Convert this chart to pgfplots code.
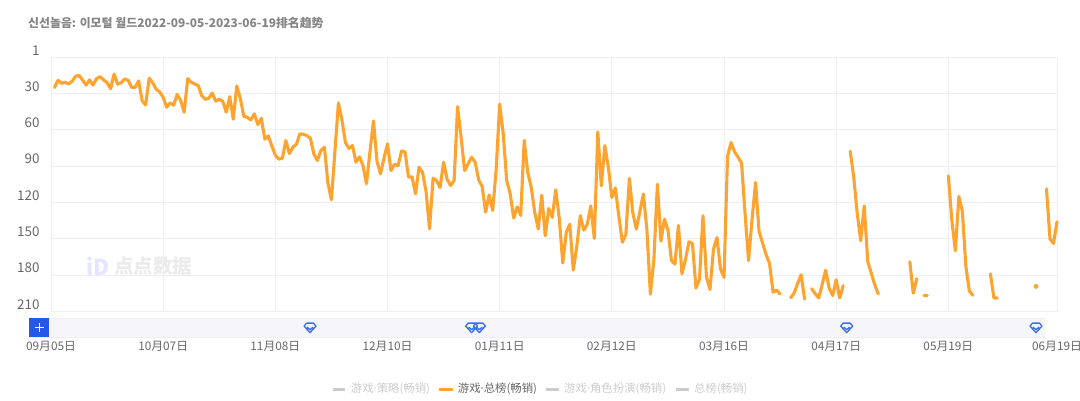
\documentclass[border=0pt]{standalone}
\usepackage{pgfplots}
\usepackage{pgfplotstable}
\usepackage{fontspec}
\pgfplotsset{compat=1.18}
\setmainfont{Noto Sans CJK SC}
\newfontfamily\latf{Noto Sans}
\newcommand{\mdot}{{\latf\fontsize{11.4pt}{13pt}\selectfont ·}}
\definecolor{gridc}{HTML}{ECEEF1}
\definecolor{linec}{HTML}{FDA32F}
\definecolor{ticktxt}{HTML}{666666}
\definecolor{offc}{HTML}{CCCCCC}
\definecolor{gemc}{HTML}{3A6FF0}
\definecolor{barc}{HTML}{F5F5FA}
\definecolor{btnc}{HTML}{2558E6}
\pgfdeclareplotmark{gem}{%
  \pgfsetlinewidth{1.3pt}\pgfsetroundjoin
  \pgfpathmoveto{\pgfpoint{-6pt}{1.5pt}}
  \pgfpathlineto{\pgfpoint{-3.5pt}{4.5pt}}
  \pgfpathlineto{\pgfpoint{3.5pt}{4.5pt}}
  \pgfpathlineto{\pgfpoint{6pt}{1.5pt}}
  \pgfpathlineto{\pgfpoint{0pt}{-5pt}}
  \pgfpathclose
  \pgfpathmoveto{\pgfpoint{-3pt}{0.5pt}}
  \pgfpathlineto{\pgfpoint{0pt}{-2pt}}
  \pgfpathlineto{\pgfpoint{3pt}{0.5pt}}
  \pgfusepathqstroke}
\pgfplotstableread{
d v
1 25
2 19
3 21.5
4 20.6
5 22
6 20
7 15.7
8 15
9 18.7
10 23
11 18.7
12 23
13 17.6
14 16
15 18.7
16 21
17 26
18 13.8
19 22.3
20 21
21 18
22 19
23 24.8
24 24.8
25 19.5
26 36
27 39.4
28 17.3
29 21
30 26.4
31 28.6
32 33
33 41.3
34 37.7
35 39.6
36 30.6
37 35.8
38 45.4
39 17.6
40 20.6
41 22
42 23.4
43 31.7
44 34.7
45 33.9
46 29.5
47 36.3
48 34.7
49 36.3
50 45.4
51 32.5
52 51.2
53 23.7
54 33.9
55 48.7
56 49.6
57 51.8
58 46.8
59 55.6
60 50.4
61 67.7
62 65
63 73.2
64 81
65 84.2
66 83.4
67 68.8
68 79.6
69 74.3
70 71.9
71 63.3
72 63.6
73 64.7
74 66.9
75 80
76 85.3
77 77
78 74.3
79 104
80 117.8
81 78
82 37.7
83 51.8
84 70.5
85 75.4
86 73
87 86.7
88 82.3
89 89.5
90 104.6
91 78
92 52.6
93 86
94 96.4
95 83.4
96 71.6
97 93.6
98 88.4
99 89.7
100 77.4
101 78.2
102 99
103 98.9
104 112.9
105 90.9
106 95.3
107 111
108 141.8
109 100
110 101.9
111 107.7
112 86.7
113 100.8
114 106
115 102
116 40.8
117 66
118 93.6
119 88
120 82.6
121 86.7
122 101.3
123 106.8
124 128
125 113.7
126 126.7
127 93
128 38.6
129 62.8
130 101.9
131 112.9
132 133
133 123.6
134 130.8
135 68.8
136 95
137 107.4
138 128
139 142
140 114
141 147.6
142 125
143 132.4
144 109.6
145 133
146 170
147 144.6
148 138
149 176
150 156.4
151 131
152 142.9
153 138
154 122.8
155 149.8
156 61.7
157 106.3
158 73
159 90.9
160 116
161 108
162 131.6
163 152.8
164 146.5
165 100
166 128.9
167 142
168 127.5
169 112.9
170 142.6
171 195.8
172 167
173 104.9
174 152
175 133.8
176 142.6
177 168
178 171
179 139
180 179
181 167.4
182 152.5
183 154
184 190.8
185 183.4
186 131
187 181.7
188 192
189 158.6
190 149
191 175
192 182
193 82
194 70.5
195 78
196 82.6
197 87.3
198 128.9
199 168
200 134
201 103.5
202 144
203 153.6
204 163
205 170.7
206 194.3
207 192.4
208 195.7
209 nan
210 nan
211 198.8
212 195
213 187
214 179.8
215 200
216 nan
217 191.3
218 195.4
219 199
220 188
221 176
222 190.8
223 197
224 183.9
225 199
226 188.8
227 nan
228 77.6
229 99
230 128.8
231 151.7
232 122.8
233 168.7
234 178.4
235 188
236 195.7
237 nan
245 169
246 195
247 183
248 nan
249 197
250 197
251 nan
256 98
257 135
258 160
259 115
260 127.4
261 172.9
262 193.2
263 196.8
264 nan
268 179
269 199
270 199
271 nan
284 108.7
285 150.3
286 153.9
287 136
}\ranktable
\begin{document}
\begin{tikzpicture}[x=1pt,y=1pt]
\useasboundingbox (0,0) rectangle (1080,-401);
\node[anchor=west,inner sep=0pt,text=black!48,font=\fontsize{11.9pt}{13pt}\selectfont\bfseries] at (28,-23) {신선놀음: 이모털 월드2022-09-05-2023-06-19排名趋势};
\fill[barc] (29,-318) rectangle (1045,-337.5);
\draw[gridc,line width=0.7pt] (29,-318) -- (1045,-318) (29,-337.5) -- (1045,-337.5);
\fill[btnc] (29.3,-317.7) rectangle (49,-337.3);
\draw[white,line width=1.2pt] (34.5,-327.5) -- (44,-327.5) (39.3,-322.8) -- (39.3,-332.2);
\node[anchor=west,inner sep=0pt,text=blue!10!white,font=\fontsize{22pt}{24pt}\selectfont\bfseries] at (86,-266) {iD};
\node[anchor=west,inner sep=0pt,text=black!8,font=\fontsize{19.5pt}{22pt}\selectfont\bfseries] at (114,-266) {点点数据};
\begin{scope}[every node/.style={anchor=west,inner sep=0pt,font=\fontsize{11.4pt}{13pt}\selectfont}]
\draw[offc,line width=3pt] (332.7,-389.5) -- (345,-389.5);
\node[text=offc] at (350.7,-389) {游戏\mdot 策略(畅销)};
\draw[linec,line width=3pt] (439,-389.5) -- (453,-389.5);
\node[text=ticktxt] at (457.7,-389) {游戏\mdot 总榜(畅销)};
\draw[offc,line width=3pt] (546,-389.5) -- (559,-389.5);
\node[text=offc] at (564,-389) {游戏\mdot 角色扮演(畅销)};
\draw[offc,line width=3pt] (676,-389.5) -- (689,-389.5);
\node[text=offc] at (694,-389) {总榜(畅销)};
\end{scope}
\begin{axis}[
  at={(51pt,-311.3pt)},anchor=south west,
  scale only axis,width=1006pt,height=254pt,
  xmin=0,xmax=287,ymin=0,ymax=210,y dir=reverse,
  clip=false,
  axis line style={gridc,line width=0.8pt},
  grid=major,grid style={gridc,line width=0.8pt},
  major tick length=0pt,
  xtick={0,32,64,96,128,160,192,224,256,287},
  xticklabels={09月05日,10月07日,11月08日,12月10日,01月11日,02月12日,03月16日,04月17日,05月19日,06月19日},
  ytick={0,30,60,90,120,150,180,210},
  yticklabels={1,30,60,90,120,150,180,210},
  tick label style={text=ticktxt},
  xticklabel style={font=\fontsize{11.8pt}{13pt}\selectfont,anchor=center,yshift=-35.4pt},
  yticklabel style={font=\fontsize{13.4pt}{15pt}\selectfont,anchor=east,xshift=-8pt,yshift=7pt},
  unbounded coords=jump,
]
\addplot[linec,line width=3.1pt,line join=round,line cap=round,no marks] table[x=d,y=v] {\ranktable};
\addplot[forget plot,only marks,mark=*,mark size=2.2pt,linec,mark options={fill=linec,draw=linec}] coordinates {(281,189.4)};
\addplot[forget plot,only marks,mark=gem,gemc] coordinates {(73.9,223.5) (120,223.5) (122.2,223.5) (227,223.5) (281,223.5)};
\end{axis}
\end{tikzpicture}
\end{document}
